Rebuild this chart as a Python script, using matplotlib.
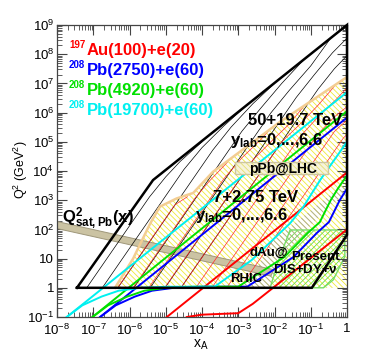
import numpy as np
import matplotlib
matplotlib.use("Agg")
import matplotlib.pyplot as plt
from matplotlib.patches import Rectangle
from matplotlib.ticker import LogLocator, FuncFormatter, NullFormatter

plt.rcParams['font.family'] = ['Liberation Sans', 'DejaVu Sans']
plt.rcParams['mathtext.fontset'] = 'custom'
plt.rcParams['mathtext.rm'] = 'Liberation Sans'
plt.rcParams['mathtext.it'] = 'Liberation Sans:italic'
plt.rcParams['mathtext.bf'] = 'Liberation Sans:bold'
plt.rcParams['hatch.linewidth'] = 0.6

# all points are (log10 x_A, log10 Q2)

# 50+19.7 TeV outer boundary (thick black)
fcc_edge = [(-7.45, 0.0), (-5.35, 3.69), (0.0, 9.0), (0.0, 1.81), (-0.97, 0.0), (-7.45, 0.0)]

# 50+19.7 TeV y_lab lines (thin black)
fcc_ylab = [
    [(-7.18, 0.0), (-5.45, 3.11), (-5.0, 3.8), (-4.6, 4.33), (-4.0, 5.0)],
    [(-6.75, 0.0), (-4.5, 4.05), (-4.0, 4.8), (-3.4, 5.54), (-2.9, 6.1)],
    [(-6.32, 0.0), (-3.7, 4.72), (-3.2, 5.5), (-2.6, 6.3), (-2.0, 7.0)],
    [(-5.88, 0.0), (-2.9, 5.36), (-2.4, 6.12), (-1.8, 7.0), (-1.2, 7.8)],
    [(-5.43, 0.0), (-2.1, 5.99), (-1.6, 6.75), (-1.0, 7.6), (-0.45, 8.55)],
    [(-5.02, 0.0), (-1.4, 6.52), (-0.9, 7.3), (-0.4, 8.05), (0.0, 8.55)],
    [(-4.58, 0.0), (-0.8, 6.8), (-0.35, 7.5), (0.0, 7.95)],
]

# 7+2.75 TeV (pPb@LHC) boundary (tan) and y_lab lines (thin red)
lhc_edge = [(-6.40, 0.0), (-5.9, 1.0), (-5.43, 2.2), (-5.16, 2.78), (-4.70, 3.06),
            (-4.24, 3.25), (-3.70, 3.97), (-1.85, 5.68), (0.0, 7.22)]
lhc_ylab = [
    [(-6.33, 0.0), (-4.75, 2.84), (-4.4, 3.12)],
    [(-5.9, 0.0), (-4.2, 3.06), (-3.8, 3.65), (-3.3, 4.3)],
    [(-5.47, 0.0), (-3.4, 3.73), (-2.9, 4.45), (-2.4, 5.05), (-2.1, 5.45)],
    [(-5.03, 0.0), (-2.6, 4.37), (-2.1, 5.0), (-1.6, 5.6), (-1.2, 6.2)],
    [(-4.58, 0.0), (-1.8, 5.0), (-1.3, 5.6), (-0.8, 6.25), (-0.3, 6.97)],
    [(-4.17, 0.0), (-1.3, 5.17), (-0.8, 5.85), (-0.3, 6.45), (0.0, 6.85)],
    [(-3.73, 0.0), (-0.8, 5.27), (-0.35, 5.85), (0.0, 6.2)],
    [(-3.32, 0.0), (-0.35, 5.35), (0.0, 5.75)],
    [(-2.95, 0.0), (-0.1, 5.13), (0.0, 5.25)],
]

# eA configurations: y=1 line and electron-angle line
red_y1 = [(-4.97, -1.0), (0.0, 3.95)]
red_theta = [(-4.42, -1.0), (-4.0, -0.92), (-3.0, -0.87), (-2.6, -0.55), (0.0, 2.0)]
blue_y1 = [(-6.81, -1.0), (0.0, 5.83)]
blue_theta = [(-6.81, -1.0), (-6.38, -0.6), (-5.85, -0.3), (-5.38, -0.1), (-4.78, 0.0),
              (-4.08, 0.035), (-2.75, 0.04), (-1.48, 1.05), (-0.83, 1.88), (-0.5, 2.25),
              (-0.2, 3.0), (0.0, 3.4)]
green_y1 = [(-7.02, -1.0), (0.0, 6.05)]
green_theta = [(-7.02, -1.0), (-6.59, -0.6), (-6.06, -0.3), (-5.59, -0.1), (-4.99, 0.0),
               (-4.29, 0.035), (-3.0, 0.04), (-1.73, 1.05), (-1.08, 1.88), (-0.75, 2.25),
               (-0.45, 3.0), (-0.25, 3.4), (0.0, 3.85)]
cyan_y1 = [(-7.73, -1.0), (0.0, 6.7)]
cyan_theta = [(-7.73, -1.0), (-7.3, -0.6), (-6.77, -0.3), (-6.3, -0.1), (-5.7, 0.0),
              (-5.0, 0.035), (-3.65, 0.04), (-2.63, 0.95), (-1.57, 2.21), (-1.2, 2.78),
              (-0.74, 3.69), (0.0, 5.0)]

# saturation band Q2_sat,Pb(x)
qsat_upper = [(-8.0, 2.27), (-2.02, 0.62)]
qsat_lower = [(-8.0, 2.03), (-2.1, 0.40)]

# dAu@RHIC and present DIS+DY+nu regions
rhic_region = [(-3.0, 0.0), (-2.45, 0.75), (-2.1, 1.55), (-0.3, 3.35), (0.0, 3.5),
               (0.0, 3.2), (-0.4, 2.9), (-1.9, 1.0), (-2.1, 0.0)]
dis_region = [(-2.12, 0.0), (-1.9, 0.9), (-1.57, 1.98), (-0.19, 1.98), (-0.06, 1.8),
              (-0.06, 1.07), (-0.38, 0.27), (-0.65, 0.0)]

beams = [
    ('197', 'Au(100)+e(20)', '#ff0000', red_y1, red_theta),
    ('208', 'Pb(2750)+e(60)', '#0000ff', blue_y1, blue_theta),
    ('208', 'Pb(4920)+e(60)', '#00e000', green_y1, green_theta),
    ('208', 'Pb(19700)+e(60)', '#00f0f0', cyan_y1, cyan_theta),
]


def xy(pts):
    a = np.array(pts, dtype=float)
    return 10 ** a[:, 0], 10 ** a[:, 1]


fig = plt.figure(figsize=(3.74, 3.61), dpi=100)
ax = fig.add_axes([57 / 374, 1 - 317 / 361, 290 / 374, 292 / 361])
ax.set_xscale('log')
ax.set_yscale('log')
ax.set_xlim(1e-8, 1)
ax.set_ylim(1e-1, 1e9)


def tx(px, py, s, **kw):
    ax.text((px - 57) / 290, (317 - py) / 292, s, transform=ax.transAxes, **kw)


# yellow hatched LHC region
reg = lhc_edge + [(0.0, 0.0), (-6.40, 0.0)]
x, y = xy(reg)
ax.fill(x, y, facecolor='none', edgecolor='#efe936', hatch='\\' * 6, lw=0, zorder=1)

# present DIS region
x, y = xy(dis_region)
ax.fill(x, y, facecolor='none', edgecolor='#66dd44', hatch='/' * 6, lw=0, zorder=1.2)
ax.fill(x, y, facecolor='none', edgecolor='#77dd66', lw=1.0, zorder=1.3)

# dAu@RHIC region
x, y = xy(rhic_region)
ax.fill(x, y, facecolor='none', edgecolor='#a8a8a0', hatch='\\' * 6, lw=0, zorder=1.2)

# saturation band
xu, yu = xy(qsat_upper)
xl, yl = xy(qsat_lower)
ax.fill(np.r_[xu, xl[::-1]], np.r_[yu, yl[::-1]], facecolor='#cbc3a3',
        edgecolor='#9f977a', lw=0.7, zorder=2)

# thin lines
for pts in fcc_ylab:
    x, y = xy(pts)
    ax.plot(x, y, color='black', lw=0.5, zorder=3)
for pts in lhc_ylab:
    x, y = xy(pts)
    ax.plot(x, y, color='#ff2a2a', lw=0.5, zorder=3.1)

x, y = xy(lhc_edge)
ax.plot(x, y, color='#f3cd92', lw=1.8, zorder=3.2)

for sup, lab, c, y1, th in beams:
    x, y = xy(y1)
    ax.plot(x, y, color=c, lw=1.4, zorder=4)
    x, y = xy(th)
    ax.plot(x, y, color=c, lw=1.4, zorder=4)

x, y = xy(fcc_edge)
ax.plot(x, y, color='black', lw=1.8, zorder=5, clip_on=False, solid_joinstyle='miter')

# pPb@LHC box
ax.add_patch(Rectangle(((235 - 57) / 290, (317 - 174) / 292), 93 / 290, 12 / 292,
                       transform=ax.transAxes, facecolor='#f6f3dc', edgecolor='#e6df70',
                       hatch='\\' * 6, lw=0, zorder=6))
ax.add_patch(Rectangle(((235 - 57) / 290, (317 - 174) / 292), 93 / 290, 12 / 292,
                       transform=ax.transAxes, facecolor='none', edgecolor='#cdc6a0',
                       lw=1.0, zorder=6.1))

# legend texts: mass number as a small raised label, then the beam setup
for i, (sup, lab, c, y1, th) in enumerate(beams):
    base = 55 + 20 * i
    tx(69, base - 7.5, sup, color=c, fontsize=7, fontweight='bold',
       va='baseline', ha='left', zorder=7)
    tx(87, base, lab, color=c, fontsize=12, fontweight='bold',
       va='baseline', ha='left', zorder=7)

tx(248, 125, '50+19.7 TeV', fontsize=12, fontweight='bold', va='baseline', zorder=7)
tx(230, 145, r'$\mathbf{y_{lab}}$=0,...,6.6', fontsize=12, fontweight='bold',
   va='baseline', zorder=7)
tx(249, 173, 'pPb@LHC', fontsize=10, fontweight='bold', va='baseline', zorder=7)
tx(213, 202, '7+2.75 TeV', fontsize=12, fontweight='bold', va='baseline', zorder=7)
tx(195, 220, r'$\mathbf{y_{lab}}$=0,...,6.6', fontsize=12, fontweight='bold',
   va='baseline', zorder=7)
tx(249, 256, 'dAu@', fontsize=9.5, fontweight='bold', va='baseline', zorder=7)
tx(291, 260, 'Present', fontsize=9.5, fontweight='bold', va='baseline', zorder=7)
tx(273, 273, r'DIS+DY+$\mathregular{\nu}$', fontsize=9.5, fontweight='bold',
   va='baseline', zorder=7)
tx(230, 282, 'RHIC', fontsize=9.5, fontweight='bold', va='baseline', zorder=7)
tx(62, 223, r'$\mathbf{Q^{2}_{sat,Pb}(x)}$', fontsize=12, va='baseline', zorder=7)


def fmt(v, pos):
    n = int(round(np.log10(v)))
    if n == 0:
        return '1'
    if n == 1:
        return '10'
    return r'$10^{%d}$' % n


for axis in (ax.xaxis, ax.yaxis):
    axis.set_major_locator(LogLocator(base=10, numticks=20))
    axis.set_minor_locator(LogLocator(base=10, subs=np.arange(2, 10), numticks=20))
    axis.set_major_formatter(FuncFormatter(fmt))
    axis.set_minor_formatter(NullFormatter())

ax.tick_params(which='both', direction='in', top=True, right=True, labelsize=9.5,
               color='#444444')
ax.tick_params(which='major', length=7, width=0.8)
ax.tick_params(which='minor', length=3.5, width=0.6)
ax.tick_params(axis='x', pad=4.5)
ax.tick_params(axis='y', pad=2)
for s in ax.spines.values():
    s.set_color('#444444')
    s.set_linewidth(0.9)

fig.text(21 / 374, 1 - 170 / 361, r'Q$^{2}$ (GeV$^{2}$)', rotation=90, fontsize=9,
         ha='center', va='center')
fig.text(201 / 374, 1 - 345 / 361, r'x$_{\mathregular{A}}$', fontsize=10,
         ha='center', va='center')

fig.savefig('out.png', dpi=100)
